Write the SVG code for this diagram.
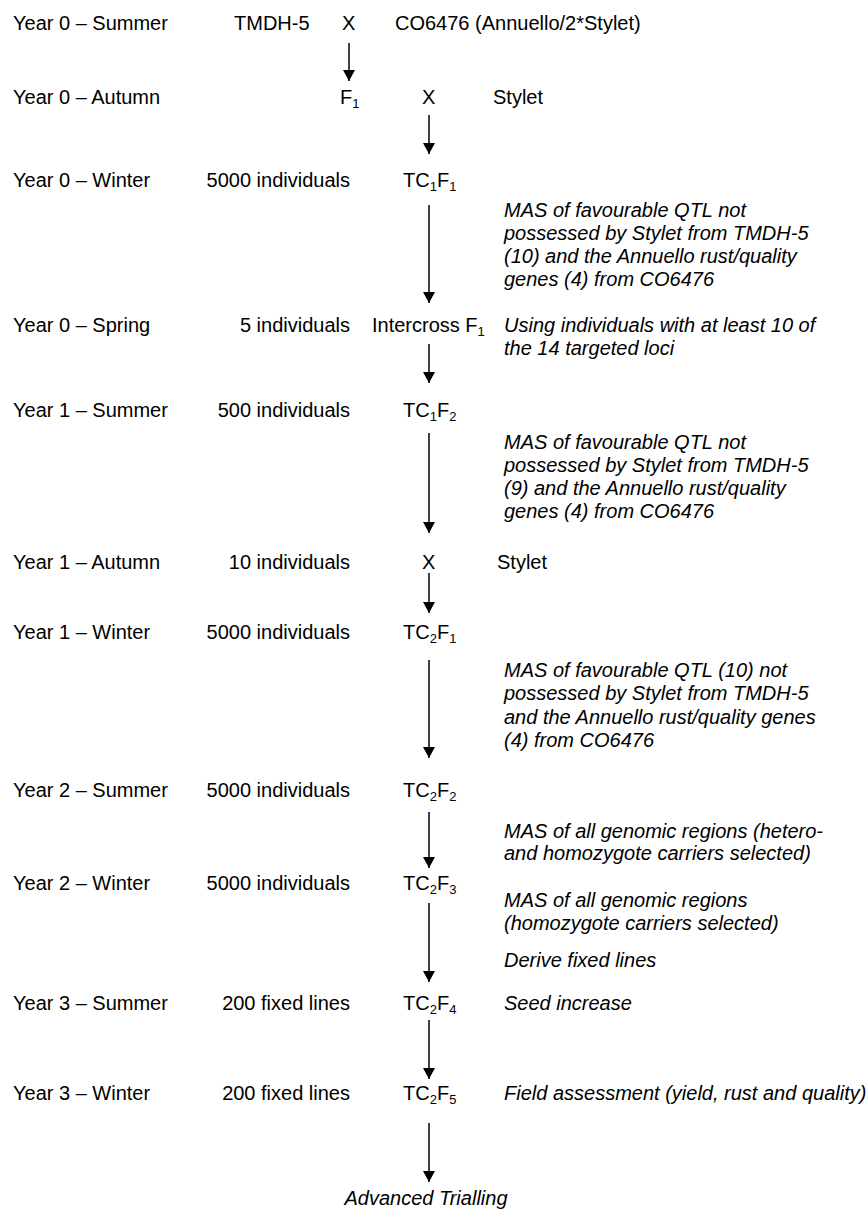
<svg xmlns="http://www.w3.org/2000/svg" width="866" height="1210" viewBox="0 0 866 1210">
<defs>
<style>
text{font-family:"Liberation Sans",Arial,sans-serif;font-size:20px;fill:#000}
.it{font-style:italic}
.end{text-anchor:end}
.mid{text-anchor:middle}
.sub{font-size:13px}
.conn line{stroke:#000;stroke-width:1.5;marker-end:url(#ah)}
</style>
<marker id="ah" markerUnits="userSpaceOnUse" markerWidth="11" markerHeight="12" refX="11" refY="6" orient="auto">
<path d="M0,0 L11,6 L0,12 z" fill="#000"/>
</marker>
</defs>
<rect width="866" height="1210" fill="#fff"/>
<g id="labels">
<text x="13" y="30">Year 0 – Summer</text>
<text x="13" y="104">Year 0 – Autumn</text>
<text x="13" y="187">Year 0 – Winter</text>
<text x="13" y="332">Year 0 – Spring</text>
<text x="13" y="417">Year 1 – Summer</text>
<text x="13" y="569">Year 1 – Autumn</text>
<text x="13" y="639">Year 1 – Winter</text>
<text x="13" y="797">Year 2 – Summer</text>
<text x="13" y="890">Year 2 – Winter</text>
<text x="13" y="1010">Year 3 – Summer</text>
<text x="13" y="1100">Year 3 – Winter</text>
</g>
<g id="n-parents">
<text x="234" y="30">TMDH-5</text>
<text x="342" y="30">X</text>
<text x="395" y="30">CO6476 (Annuello/2*Stylet)</text>
</g>
<g id="n-f1">
<text x="340" y="104">F<tspan class="sub" dy="4">1</tspan></text>
<text x="422" y="104">X</text>
<text x="493" y="104">Stylet</text>
</g>
<g id="n-tc1f1">
<text class="end" x="350" y="187">5000 individuals</text>
<text x="403" y="187">TC<tspan class="sub" dy="4">1</tspan><tspan dy="-4">F</tspan><tspan class="sub" dy="4">1</tspan></text>
<text class="it" x="504" y="217">MAS of favourable QTL not</text>
<text class="it" x="504" y="240">possessed by Stylet from TMDH-5</text>
<text class="it" x="504" y="263">(10) and the Annuello rust/quality</text>
<text class="it" x="504" y="286">genes (4) from CO6476</text>
</g>
<g id="n-intercross">
<text class="end" x="350" y="332">5 individuals</text>
<text x="372" y="332">Intercross F<tspan class="sub" dy="4">1</tspan></text>
<text class="it" x="504" y="332">Using individuals with at least 10 of</text>
<text class="it" x="504" y="355">the 14 targeted loci</text>
</g>
<g id="n-tc1f2">
<text class="end" x="350" y="417">500 individuals</text>
<text x="403" y="417">TC<tspan class="sub" dy="4">1</tspan><tspan dy="-4">F</tspan><tspan class="sub" dy="4">2</tspan></text>
<text class="it" x="504" y="449">MAS of favourable QTL not</text>
<text class="it" x="504" y="472">possessed by Stylet from TMDH-5</text>
<text class="it" x="504" y="495">(9) and the Annuello rust/quality</text>
<text class="it" x="504" y="518">genes (4) from CO6476</text>
</g>
<g id="n-cross2">
<text class="end" x="350" y="569">10 individuals</text>
<text x="422" y="569">X</text>
<text x="497" y="569">Stylet</text>
</g>
<g id="n-tc2f1">
<text class="end" x="350" y="639">5000 individuals</text>
<text x="403" y="639">TC<tspan class="sub" dy="4">2</tspan><tspan dy="-4">F</tspan><tspan class="sub" dy="4">1</tspan></text>
<text class="it" x="504" y="677">MAS of favourable QTL (10) not</text>
<text class="it" x="504" y="700">possessed by Stylet from TMDH-5</text>
<text class="it" x="504" y="724">and the Annuello rust/quality genes</text>
<text class="it" x="504" y="747">(4) from CO6476</text>
</g>
<g id="n-tc2f2">
<text class="end" x="350" y="797">5000 individuals</text>
<text x="403" y="797">TC<tspan class="sub" dy="4">2</tspan><tspan dy="-4">F</tspan><tspan class="sub" dy="4">2</tspan></text>
<text class="it" x="504" y="838">MAS of all genomic regions (hetero-</text>
<text class="it" x="504" y="860">and homozygote carriers selected)</text>
</g>
<g id="n-tc2f3">
<text class="end" x="350" y="890">5000 individuals</text>
<text x="403" y="890">TC<tspan class="sub" dy="4">2</tspan><tspan dy="-4">F</tspan><tspan class="sub" dy="4">3</tspan></text>
<text class="it" x="504" y="907">MAS of all genomic regions</text>
<text class="it" x="504" y="930">(homozygote carriers selected)</text>
<text class="it" x="504" y="967">Derive fixed lines</text>
</g>
<g id="n-tc2f4">
<text class="end" x="350" y="1010">200 fixed lines</text>
<text x="403" y="1010">TC<tspan class="sub" dy="4">2</tspan><tspan dy="-4">F</tspan><tspan class="sub" dy="4">4</tspan></text>
<text class="it" x="504" y="1010">Seed increase</text>
</g>
<g id="n-tc2f5">
<text class="end" x="350" y="1100">200 fixed lines</text>
<text x="403" y="1100">TC<tspan class="sub" dy="4">2</tspan><tspan dy="-4">F</tspan><tspan class="sub" dy="4">5</tspan></text>
<text class="it" x="504" y="1100">Field assessment (yield, rust and quality)</text>
</g>
<g id="n-advanced">
<text class="it mid" x="426" y="1205">Advanced Trialling</text>
</g>
<g id="connectors" class="conn">
<line x1="349" y1="43" x2="349" y2="81"/>
<line x1="429" y1="115" x2="429" y2="154"/>
<line x1="429" y1="205" x2="429" y2="303"/>
<line x1="429" y1="344" x2="429" y2="383"/>
<line x1="429" y1="433" x2="429" y2="533"/>
<line x1="429" y1="573" x2="429" y2="613"/>
<line x1="429" y1="660" x2="429" y2="758"/>
<line x1="429" y1="812" x2="429" y2="868"/>
<line x1="429" y1="903" x2="429" y2="982"/>
<line x1="429" y1="1020" x2="429" y2="1079"/>
<line x1="429" y1="1123" x2="429" y2="1182"/>
</g>
</svg>
